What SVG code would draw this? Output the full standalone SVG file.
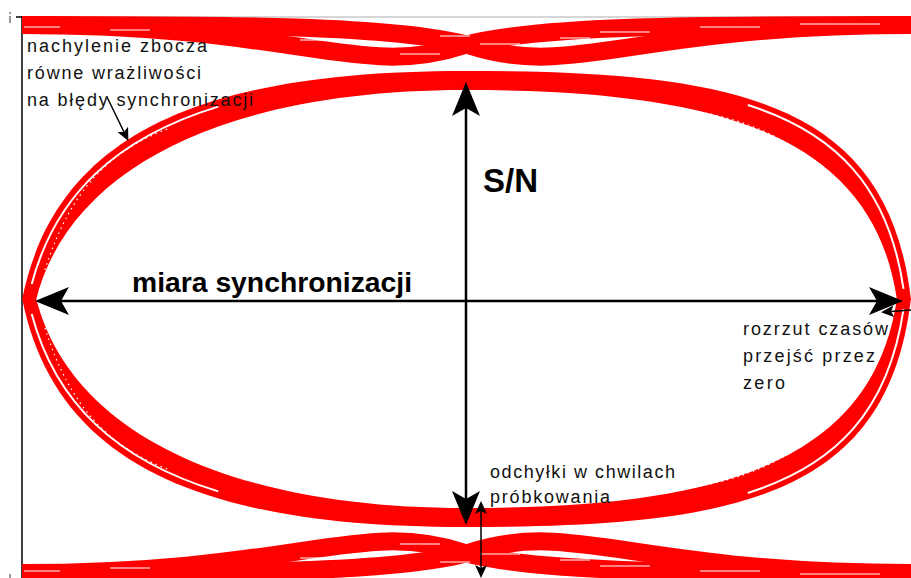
<svg xmlns="http://www.w3.org/2000/svg" width="911" height="578" viewBox="0 0 911 578">
<style>
.rf{fill:#ff0000}
.rs{fill:none;stroke:#ff0000}
.wg{fill:none;stroke:#ffffff;stroke-width:2}
.wd{fill:none;stroke:#ffffff;stroke-width:1.2;stroke-dasharray:1.5 4}
.ws{fill:none;stroke:#ffffff;stroke-width:1.2}
.ax{fill:none;stroke:#000000;stroke-width:2.5}
.sa{fill:none;stroke:#000000;stroke-width:1.5}
.lbl{font-family:"Liberation Sans",Arial,sans-serif;font-size:18px;fill:#111111}
.big{font-family:"Liberation Sans",Arial,sans-serif;font-weight:bold;fill:#000000}
</style>
<defs>
<marker id="ah" viewBox="0 0 34 28" refX="8" refY="14" markerWidth="34" markerHeight="28" markerUnits="userSpaceOnUse" orient="auto-start-reverse">
<path d="M34,14 L0,0 L8,14 L0,28 Z" fill="#000000"/>
</marker>
<marker id="sh" viewBox="0 0 13 12" refX="3" refY="6" markerWidth="13" markerHeight="12" markerUnits="userSpaceOnUse" orient="auto-start-reverse">
<path d="M13,6 L0,0 L3,6 L0,12 Z" fill="#000000"/>
</marker>
<g id="halfTop">
<path class="rs" stroke-width="18" d="M22,25 C300,25 360,80 465,45 C540,25 700,25 911,25"/>
<path class="rs" stroke-width="18" transform="matrix(-1 0 0 1 933 0)" d="M22,25 C300,25 360,80 465,45 C540,25 700,25 911,25"/>
<path class="ws" d="M24,27 H60 M110,30 H150 M400,54 H440 M480,44 H520 M600,32 H650 M700,27 H760 M800,24 H880"/>
<path class="ws" d="M300,40 H330 M560,38 H590 M440,36 H470"/>
<path class="rf" d="M22,300 C55,135 200,71 465,71 C735,71 888,100 911,300 L897,300 C873,135 720,90 465,90 C230,90 70,165 36,300 Z"/>
<path class="wg" pathLength="100" stroke-dasharray="0 3 50 200" d="M28,300 C61,140 205,77 470,77"/>
<path class="wg" pathLength="100" stroke-dasharray="0 52 46 10" d="M460,77 C730,77 882,104 905,300"/>
<path class="wd" d="M700,112 C790,128 860,180 892,290"/>
<path class="wd" d="M45,270 C70,190 110,150 170,128"/>
</g>
</defs>

<g id="frame">
<line x1="22" y1="17" x2="911" y2="17" stroke="#c8c8c8" stroke-width="1.5"/>
<line x1="22" y1="16" x2="22" y2="578" stroke="#000000" stroke-width="1.5"/>
<line x1="16" y1="17" x2="23" y2="17" stroke="#000000" stroke-width="1.5"/>
<line x1="10" y1="12" x2="10" y2="14" stroke="#333333" stroke-width="1"/>
<line x1="10" y1="16" x2="10" y2="23" stroke="#333333" stroke-width="1"/>
<line x1="10" y1="574" x2="10" y2="578" stroke="#333333" stroke-width="1"/>
</g>

<g id="eye-traces">
<use href="#halfTop"/>
<use href="#halfTop" transform="matrix(1 0 0 -1 0 598)"/>
</g>

<g id="connectors">
<line id="arrow-sync" class="ax" x1="61" y1="301" x2="877" y2="301" marker-start="url(#ah)" marker-end="url(#ah)"/>
<line id="arrow-sn" class="ax" x1="466" y1="108" x2="466" y2="499" marker-start="url(#ah)" marker-end="url(#ah)"/>
<line id="arrow-slope" class="sa" x1="107" y1="97" x2="124" y2="132" marker-end="url(#sh)"/>
<line id="arrow-jitter" class="sa" x1="911" y1="310" x2="891" y2="311.5" marker-end="url(#sh)"/>
<line id="arrow-dev" class="sa" x1="481" y1="511" x2="481" y2="568" marker-start="url(#sh)" marker-end="url(#sh)"/>
</g>

<g id="label-slope">
<text class="lbl" x="27" y="52" textLength="180" lengthAdjust="spacing">nachylenie zbocza</text>
<text class="lbl" x="27" y="79" textLength="174" lengthAdjust="spacing">równe wrażliwości</text>
<text class="lbl" x="27" y="106" textLength="226" lengthAdjust="spacing">na błędy synchronizacji</text>
</g>
<g id="label-sn">
<text class="big" x="483" y="192" font-size="33">S/N</text>
</g>
<g id="label-sync">
<text class="big" x="132" y="292" font-size="28" textLength="280" lengthAdjust="spacingAndGlyphs">miara synchronizacji</text>
</g>
<g id="label-jitter">
<text class="lbl" x="743" y="335" textLength="145" lengthAdjust="spacing">rozrzut czasów</text>
<text class="lbl" x="743" y="362" textLength="132" lengthAdjust="spacing">przejść przez</text>
<text class="lbl" x="743" y="389" textLength="42" lengthAdjust="spacing">zero</text>
</g>
<g id="label-dev">
<text class="lbl" x="490" y="478" textLength="185" lengthAdjust="spacing">odchyłki w chwilach</text>
<text class="lbl" x="490" y="503" textLength="120" lengthAdjust="spacing">próbkowania</text>
</g>
</svg>
